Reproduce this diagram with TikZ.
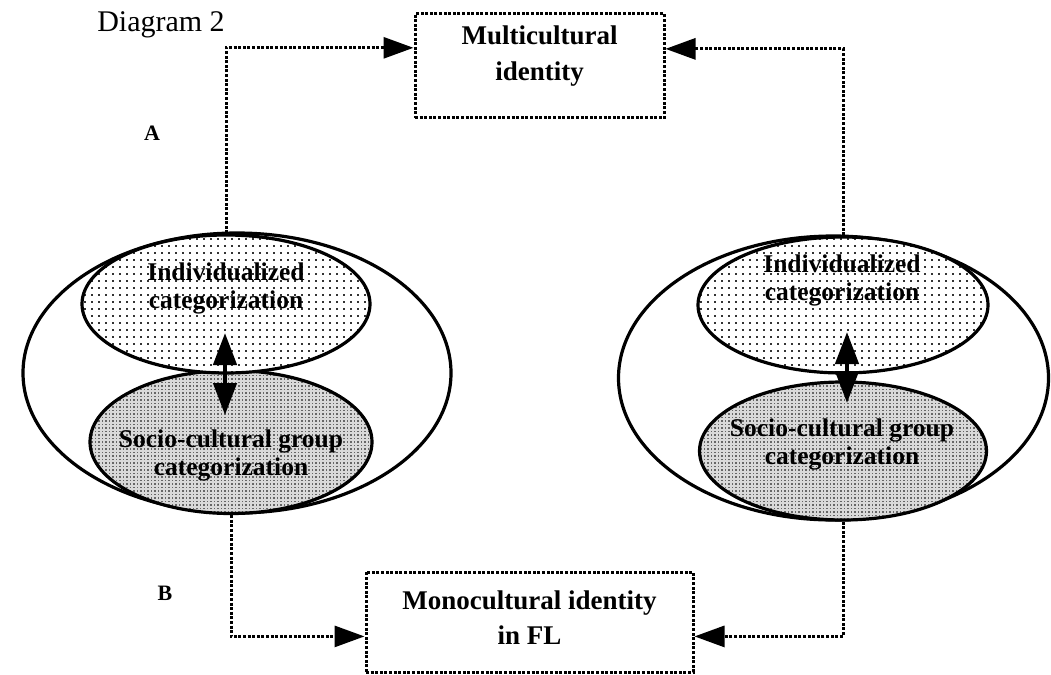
\documentclass[tikz,border=0pt]{standalone}
\usepackage{fontspec}
\setmainfont{Liberation Serif}
\usetikzlibrary{arrows.meta,shapes.geometric,patterns,calc}
\pgfdeclarepatternformonly{sparsedots}{\pgfpoint{-1pt}{-1pt}}{\pgfpoint{7pt}{7pt}}{\pgfpoint{7pt}{7pt}}{\pgfpathrectangle{\pgfpoint{0pt}{0pt}}{\pgfpoint{1.8pt}{1.8pt}}\pgfusepath{fill}}
\pgfdeclarepatternformonly{densedots}{\pgfpoint{-1pt}{-1pt}}{\pgfpoint{3.5pt}{3.5pt}}{\pgfpoint{3.5pt}{3.5pt}}{\pgfpathrectangle{\pgfpoint{0pt}{0pt}}{\pgfpoint{1.5pt}{1.5pt}}\pgfusepath{fill}}
\tikzset{
  conn/.style={line width=3pt, dash pattern=on 3pt off 1.6pt, -{Triangle[length=30pt,width=21pt]}},
  boxdot/.style={draw, line width=3pt, dash pattern=on 3pt off 1.6pt, inner sep=0pt},
  outerell/.style={draw, ellipse, line width=3.2pt, inner sep=0pt},
  indiv/.style={ellipse, draw, line width=3.2pt, preaction={fill=white}, pattern=sparsedots, pattern color=black!80, inner sep=0pt},
  socio/.style={ellipse, draw, line width=3.2pt, preaction={fill=gray!30}, pattern=densedots, pattern color=black!60, inner sep=0pt},
  lbl/.style={font=\fontsize{25.5}{28}\selectfont\bfseries, align=center, inner sep=0pt},
  boxlbl/.style={font=\fontsize{27}{36}\selectfont\bfseries, align=center, inner sep=0pt},
  twoway/.style={line width=4.5pt, {Triangle[length=32pt,width=23pt]}-{Triangle[length=32pt,width=23pt]}},
  letter/.style={font=\fontsize{22}{22}\selectfont\bfseries, inner sep=0pt},
}
\begin{document}
\begin{tikzpicture}[x=1pt,y=-1pt]
\useasboundingbox (0,0) rectangle (1051,674);

% title and side letters
\node[font=\fontsize{30}{30}\selectfont, inner sep=0pt] (title) at (161,25) {Diagram 2};
\node[letter] (labA) at (152,133) {A};
\node[letter] (labB) at (165,593) {B};

% target boxes
\node[boxdot, minimum width=249pt, minimum height=104pt] (multi) at (539.5,66) {};
\node[boxlbl] (multitxt) at (539.5,56.5) {Multicultural\\identity};
\node[boxdot, minimum width=327pt, minimum height=100pt] (mono) at (529.5,622) {};
\node[boxlbl, font=\fontsize{27}{35}\selectfont\bfseries] (monotxt) at (529.5,617.5) {Monocultural identity\\in FL};

% left ellipse group
\node[outerell, minimum width=428pt, minimum height=280pt] (Lout) at (237,373) {};
\node[socio, minimum width=282pt, minimum height=143pt] (Lbot) at (231,442) {};
\node[indiv, minimum width=288pt, minimum height=138pt] (Ltop) at (226,304) {};
\node[lbl] (Ltxt1) at (226,288) {Individualized\\categorization};
\node[lbl] (Ltxt2) at (231,455) {Socio-cultural group\\categorization};
\coordinate (La1) at (225,333);
\coordinate (La2) at (225,415);
\draw[twoway] (La1) -- (La2);

% right ellipse group
\node[outerell, minimum width=430pt, minimum height=284pt] (Rout) at (833.5,378) {};
\node[socio, minimum width=287pt, minimum height=138pt] (Rbot) at (843,451) {};
\node[indiv, minimum width=290pt, minimum height=136pt] (Rtop) at (843,305) {};
\node[lbl] (Rtxt1) at (842,280) {Individualized\\categorization};
\node[lbl] (Rtxt2) at (842,444) {Socio-cultural group\\categorization};
\coordinate (Ra1) at (847,332);
\coordinate (Ra2) at (847,403);
\draw[twoway] (Ra1) -- (Ra2);

% connectors
\draw[conn] (Ltop.north) |- ($(multi.north west)!0.33!(multi.south west)$);
\draw[conn] (Rtop.north) |- ($(multi.north east)!0.34!(multi.south east)$);
\draw[conn] (Lbot.south) |- ($(mono.north west)!0.64!(mono.south west)$);
\draw[conn] (Rbot.south) |- ($(mono.north east)!0.64!(mono.south east)$);
\end{tikzpicture}
\end{document}
